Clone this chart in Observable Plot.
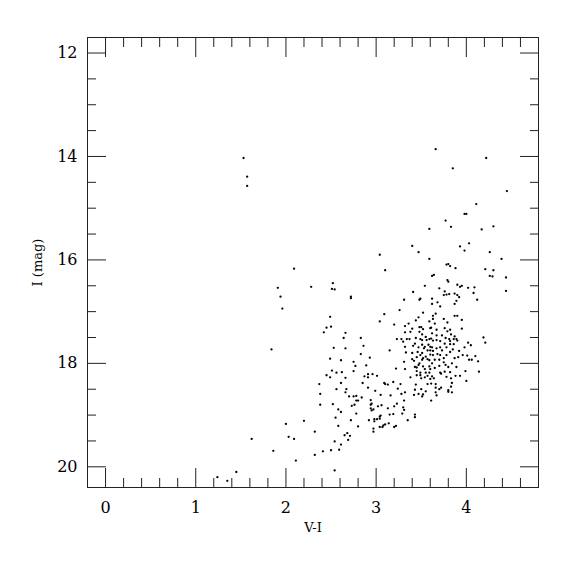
<!DOCTYPE html>
<html>
<head>
<meta charset="utf-8">
<script src="https://cdn.jsdelivr.net/npm/d3@7"></script>
<script src="https://cdn.jsdelivr.net/npm/@observablehq/plot@0.6"></script>
<style>
  html, body { margin: 0; padding: 0; background: #fff; }
</style>
</head>
<body>
<div id="chart"></div>
<script>
// V-I colour index of each star
const vi = [
  1.53,1.57,1.57,3.04,2.09,2.52,1.91,2.28,2.51,2.54,2.72,2.72,1.94,1.96,2.49,2.45,2.50,3.04,
  3.66,4.22,3.85,4.45,4.11,3.98,4.00,3.77,3.83,3.59,4.17,4.30,4.03,3.93,3.40,3.47,3.98,3.59,4.26,4.39,
  3.10,3.78,3.80,3.82,3.88,3.62,3.64,4.21,4.30,4.26,4.29,4.44,3.79,3.80,3.54,3.90,3.93,3.95,3.70,4.02,
  4.09,3.41,3.76,4.08,4.44,3.75,3.78,3.81,3.87,3.90,3.92,3.48,3.49,3.62,3.31,3.68,3.62,3.89,3.87,4.12,
  3.71,3.26,3.09,3.52,3.47,3.44,3.63,3.66,3.63,3.87,3.90,3.95,3.75,3.59,3.65,3.79,3.20,3.32,3.36,3.40,
  3.48,3.50,3.52,3.60,3.61,3.67,3.76,3.82,3.95,
  2.83,2.86,2.93,2.89,2.91,2.96,3.01,2.87,2.91,3.15,3.23,3.28,3.30,3.34,3.37,3.32,3.38,3.48,3.51,
  3.79,3.62,3.67,3.73,3.83,3.87,3.89,3.44,3.49,3.51,3.55,3.56,3.59,3.61,3.63,3.67,3.71,3.77,3.81,3.82,
  3.86,3.90,4.02,4.05,3.32,3.41,3.43,3.47,3.51,3.54,3.58,3.60,3.62,3.53,3.57,3.60,3.63,3.67,3.71,3.73,
  3.76,3.78,3.82,3.86,3.98,3.92,3.33,3.40,3.46,3.49,3.51,3.55,3.60,3.63,3.68,3.71,3.75,3.78,3.82,3.85,
  3.96,4.01,4.03,4.06,4.10,4.13,3.31,3.40,3.42,3.45,3.48,3.51,3.52,3.57,3.59,3.62,3.65,3.70,3.75,3.87,
  3.91,3.22,3.32,3.43,3.45,3.47,3.52,3.54,3.59,3.60,3.65,3.70,3.77,3.80,3.84,3.89,3.99,4.14,3.38,3.45,
  3.49,3.50,3.54,3.57,3.62,3.60,3.64,3.71,3.78,3.83,3.88,3.93,3.45,3.49,3.55,3.59,3.72,3.76,3.82,
  2.42,2.66,2.64,1.84,2.53,2.66,2.83,2.49,2.61,2.75,2.77,2.51,2.56,2.62,2.75,2.45,2.49,2.66,
  4.19,4.21,
  2.37,2.61,2.38,2.56,2.67,2.66,2.70,2.75,2.78,2.78,2.80,2.38,2.52,2.73,2.76,2.58,2.61,2.78,2.55,2.72,
  2.80,2.58,2.00,2.20,2.32,2.65,2.68,2.71,2.69,2.54,2.61,2.59,2.50,2.41,2.32,2.11,1.86,1.62,2.03,2.09,2.54,
  2.85,2.91,2.99,3.05,2.84,2.94,2.95,2.94,3.02,3.06,2.94,2.97,2.95,3.13,3.16,3.19,3.09,3.10,3.13,3.24,
  3.27,3.28,3.32,3.31,3.23,3.20,3.30,3.31,3.29,3.15,3.19,3.05,3.04,3.04,2.92,2.98,2.98,3.01,3.10,3.08,
  3.07,3.04,3.14,3.20,3.22,2.97,2.97,3.35,3.43,3.43,3.43,3.42,3.47,3.50,3.51,3.52,3.55,3.57,3.61,3.61,
  3.66,3.66,3.66,3.67,3.70,3.72,3.80,3.80,3.84,3.83,3.84,3.44,4.00,
  1.24,1.35,1.45
];
// I magnitude of each star
const iMag = [
  14.03,14.39,14.57,15.90,16.17,16.45,16.54,16.52,16.56,16.57,16.71,16.74,16.71,16.94,17.10,17.31,17.29,17.19,
  13.86,14.03,14.23,14.67,14.92,15.11,15.11,15.24,15.36,15.40,15.41,15.35,15.68,15.74,15.73,15.85,15.82,15.98,15.85,15.98,
  16.20,16.09,16.08,16.12,16.16,16.31,16.29,16.18,16.20,16.31,16.32,16.34,16.39,16.42,16.50,16.48,16.52,16.50,16.55,16.54,
  16.53,16.62,16.61,16.64,16.60,16.68,16.67,16.66,16.65,16.68,16.72,16.77,16.75,16.75,16.77,16.82,16.85,16.79,16.85,16.77,
  16.90,16.97,17.05,17.02,17.11,17.17,17.08,17.04,17.14,17.08,17.08,17.16,17.14,17.19,17.23,17.21,17.25,17.28,17.23,17.33,
  17.30,17.30,17.34,17.32,17.31,17.35,17.32,17.35,17.33,
  17.51,17.66,17.89,18.04,18.21,18.21,18.24,18.25,18.27,17.75,17.53,17.53,17.58,17.53,17.53,17.40,17.39,17.39,17.44,
  17.38,17.42,17.46,17.46,17.44,17.48,17.53,17.51,17.53,17.55,17.49,17.55,17.53,17.52,17.56,17.55,17.57,17.51,17.53,17.57,
  17.53,17.56,17.60,17.65,17.68,17.66,17.62,17.69,17.64,17.68,17.64,17.68,17.69,17.71,17.75,17.75,17.76,17.71,17.69,17.75,
  17.62,17.69,17.63,17.63,17.69,17.76,17.79,17.80,17.78,17.84,17.80,17.87,17.83,17.84,17.82,17.84,17.90,17.84,17.78,17.73,
  17.84,17.85,17.93,17.93,17.86,17.96,17.97,17.92,17.95,17.88,18.00,17.93,17.90,17.92,17.94,18.00,17.93,17.93,17.98,17.90,
  17.88,18.10,18.11,18.07,18.08,18.03,18.06,18.11,18.06,18.11,18.09,18.05,18.03,18.07,18.00,18.07,18.15,18.16,18.27,18.23,
  18.23,18.29,18.27,18.24,18.25,18.30,18.29,18.18,18.26,18.29,18.24,18.24,18.15,18.18,18.18,18.18,18.20,18.16,18.17,
  17.40,17.41,17.51,17.73,17.70,17.71,17.82,17.91,17.94,17.97,18.05,18.14,18.18,18.17,18.15,18.23,18.27,18.28,
  17.50,17.60,
  18.40,18.38,18.59,18.50,18.50,18.56,18.64,18.64,18.63,18.72,18.72,18.80,18.79,18.82,18.80,18.89,18.94,18.97,19.05,19.10,
  19.22,19.21,19.17,19.11,19.32,19.39,19.35,19.40,19.48,19.51,19.57,19.67,19.68,19.70,19.77,19.88,19.69,19.46,19.42,19.46,20.07,
  18.38,18.47,18.53,18.61,18.66,18.71,18.78,18.80,18.83,18.81,18.87,18.89,18.91,18.87,18.62,18.36,18.38,18.40,18.41,18.49,
  18.40,18.59,18.56,18.72,18.78,18.83,18.85,18.90,18.97,18.99,18.98,19.01,19.03,19.07,19.10,19.08,19.12,19.08,19.18,19.20,
  19.23,19.23,19.16,19.23,19.21,19.26,19.32,19.10,18.99,19.04,18.51,18.61,18.59,18.50,18.64,18.60,18.54,18.40,18.72,18.39,
  18.40,18.47,18.56,18.62,18.50,18.47,18.52,18.55,18.56,18.45,18.38,18.41,18.34,
  20.20,20.27,20.10
];

const xMajor = [0, 1, 2, 3, 4];
const xMinor = [0.2, 0.4, 0.6, 0.8, 1.2, 1.4, 1.6, 1.8, 2.2, 2.4, 2.6, 2.8, 3.2, 3.4, 3.6, 3.8, 4.2, 4.4, 4.6];
const yMajor = [12, 14, 16, 18, 20];
const yMinor = [12.5, 13, 13.5, 14.5, 15, 15.5, 16.5, 17, 17.5, 18.5, 19, 19.5];

const stars = vi.map((v, i) => ({vi: v, mag: iMag[i]}));

const fontSerif = "DejaVu Serif, Liberation Serif, serif";
const blank = () => "";

const chart = Plot.plot({
  width: 575,
  height: 575,
  marginLeft: 87,
  marginRight: 37,
  marginTop: 37,
  marginBottom: 88,
  style: {fontFamily: fontSerif, fontSize: "16px", color: "#000", background: "#fff"},
  x: {domain: [-0.2, 4.8]},
  y: {domain: [20.4, 11.7]},
  marks: [
    Plot.frame({stroke: "#222", strokeWidth: 1}),
    // bottom
    Plot.axisX({anchor: "bottom", ticks: xMajor, tickSize: -19, tickPadding: 33, tickFormat: d => String(d), label: null, stroke: "#222", fontSize: 16, fontFamily: fontSerif}),
    Plot.axisX({anchor: "bottom", ticks: xMinor, tickSize: -9, tickFormat: blank, label: null, stroke: "#222"}),
    Plot.axisX({anchor: "bottom", ticks: [], label: "V-I", labelAnchor: "center", labelArrow: "none", labelOffset: 44, fontSize: 13, fontFamily: fontSerif}),
    // top
    Plot.axisX({anchor: "top", ticks: xMajor, tickSize: -19, tickFormat: blank, label: null, stroke: "#222"}),
    Plot.axisX({anchor: "top", ticks: xMinor, tickSize: -9, tickFormat: blank, label: null, stroke: "#222"}),
    // left
    Plot.axisY({anchor: "left", ticks: yMajor, tickSize: -19, tickPadding: 29, tickFormat: d => String(d), label: null, stroke: "#222", fontSize: 16, fontFamily: fontSerif}),
    Plot.axisY({anchor: "left", ticks: yMinor, tickSize: -9, tickFormat: blank, label: null, stroke: "#222"}),
    Plot.axisY({anchor: "left", ticks: [], label: "I (mag)", labelAnchor: "center", labelArrow: "none", labelOffset: 55, fontSize: 13, fontFamily: fontSerif}),
    // right
    Plot.axisY({anchor: "right", ticks: yMajor, tickSize: -19, tickFormat: blank, label: null, stroke: "#222"}),
    Plot.axisY({anchor: "right", ticks: yMinor, tickSize: -9, tickFormat: blank, label: null, stroke: "#222"}),
    Plot.dot(stars, {x: "vi", y: "mag", r: 1.15, fill: "#000", stroke: null})
  ]
});
document.getElementById("chart").appendChild(chart);
</script>
</body>
</html>
